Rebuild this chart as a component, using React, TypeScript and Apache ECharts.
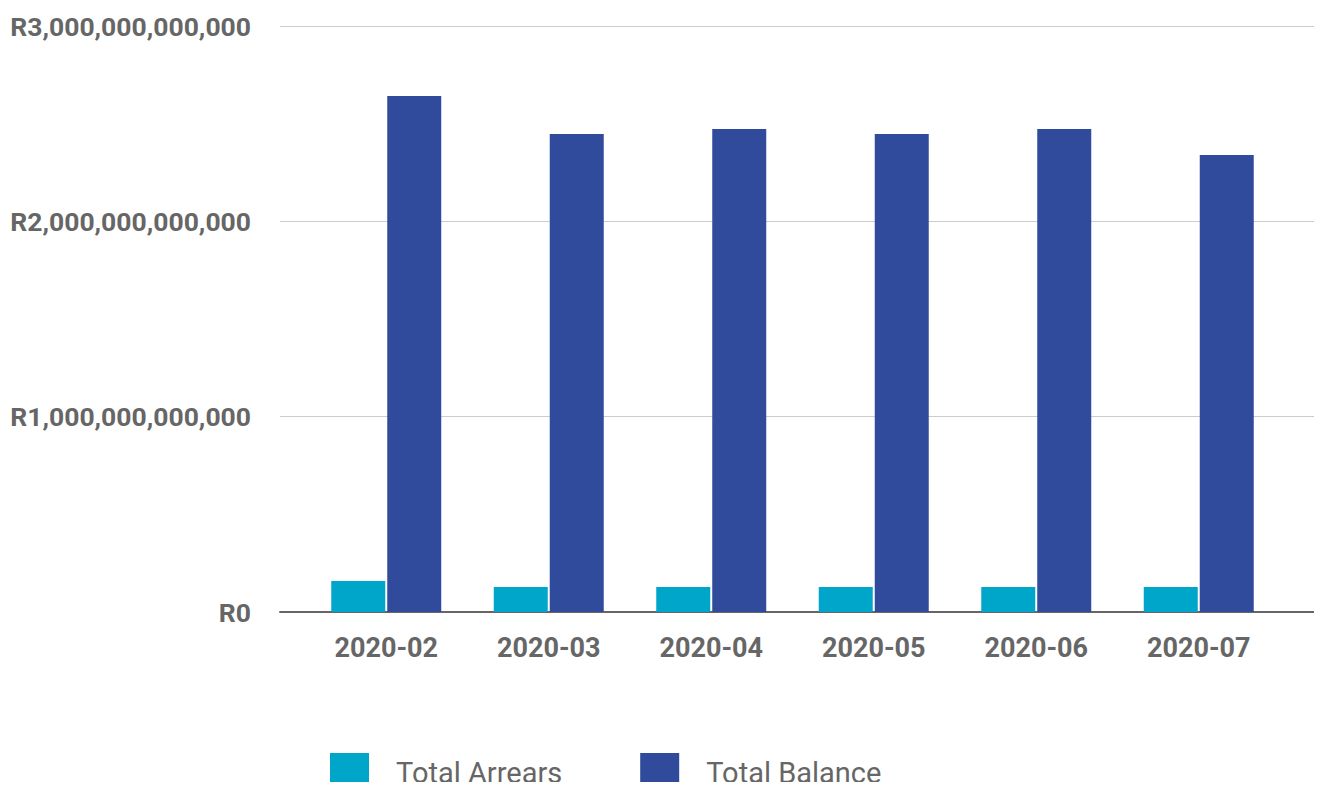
import React, { useEffect, useRef } from "react";
import * as echarts from "echarts";

const categories = ["2020-02", "2020-03", "2020-04", "2020-05", "2020-06", "2020-07"];
const totalArrears = [158.7e9, 128e9, 128e9, 128e9, 128e9, 128e9];
const totalBalance = [2.642e12, 2.447e12, 2.473e12, 2.447e12, 2.473e12, 2.34e12];
const yMin = 0;
const yMax = 3e12;
const yInterval = 1e12;

const fmt = (v: number) => "R" + Math.round(v).toLocaleString("en-US");

export default function App() {
  const ref = useRef<HTMLDivElement>(null);
  useEffect(() => {
    if (!ref.current) return;
    const chart = echarts.init(ref.current, null, { renderer: "svg" });
    chart.setOption({
      animation: false,
      backgroundColor: "#ffffff",
      textStyle: { fontFamily: "Roboto" },
      grid: [
        { left: 305, right: 42, top: 26, bottom: 178 },
        { left: 280, right: 4, top: 26, bottom: 178 },
      ],
      legend: {
        left: 330,
        top: 753,
        padding: 0,
        itemWidth: 39,
        itemHeight: 40,
        itemGap: 78,
        icon: "rect",
        textStyle: {
          fontFamily: "Roboto",
          fontSize: 29,
          color: "#666666",
          padding: [0, 0, 0, 22],
        },
        data: ["Total Arrears", "Total Balance"],
      },
      xAxis: [
        {
          type: "category",
          gridIndex: 0,
          data: categories,
          axisLine: { show: false },
          axisTick: { show: false },
          axisLabel: {
            fontFamily: "Roboto",
            fontWeight: "bold",
            fontSize: 27,
            color: "#666666",
            margin: 22,
          },
        },
        {
          type: "value",
          gridIndex: 1,
          min: 0,
          max: 1,
          axisLine: { show: true, onZero: false, lineStyle: { color: "#666666", width: 2 } },
          axisTick: { show: false },
          axisLabel: { show: false },
          splitLine: { show: false },
        },
      ],
      yAxis: [
        {
          type: "value",
          gridIndex: 0,
          min: yMin,
          max: yMax,
          interval: yInterval,
          axisLabel: { show: false },
          axisLine: { show: false },
          axisTick: { show: false },
          splitLine: { show: false },
        },
        {
          type: "value",
          gridIndex: 1,
          min: yMin,
          max: yMax,
          interval: yInterval,
          axisLine: { show: false },
          axisTick: { show: false },
          axisLabel: {
            fontFamily: "Roboto",
            fontWeight: "bold",
            fontSize: 26.5,
            color: "#666666",
            margin: 29,
            formatter: fmt,
          },
          splitLine: { show: true, lineStyle: { color: "#cccccc", width: 1 } },
        },
      ],
      series: [
        {
          name: "Total Arrears",
          type: "bar",
          xAxisIndex: 0,
          yAxisIndex: 0,
          data: totalArrears,
          barWidth: 54,
          barGap: "3.7%",
          itemStyle: { color: "#00a6c9" },
        },
        {
          name: "Total Balance",
          type: "bar",
          xAxisIndex: 0,
          yAxisIndex: 0,
          data: totalBalance,
          barWidth: 54,
          barGap: "3.7%",
          itemStyle: { color: "#314b9c" },
        },
      ],
    });
    return () => chart.dispose();
  }, []);
  return <div ref={ref} style={{ width: 1322, height: 790, margin: -8 }} />;
}
